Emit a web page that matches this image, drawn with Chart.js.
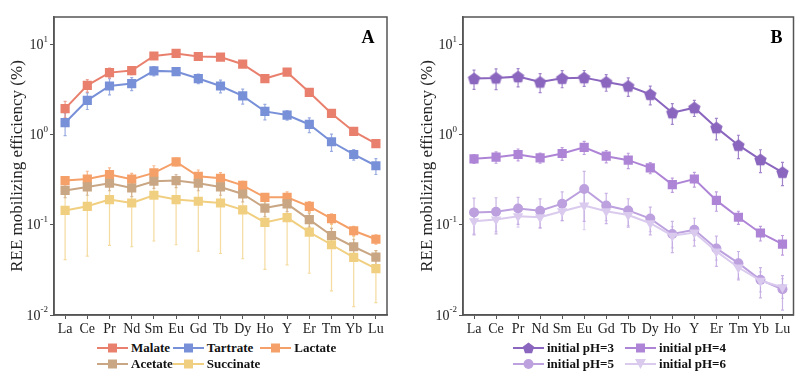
<!DOCTYPE html>
<html>
<head>
<meta charset="utf-8">
<script src="https://cdn.jsdelivr.net/npm/chart.js@4.4.0/dist/chart.umd.min.js"></script>
<style>
  body { margin: 0; background: #fff; }
  #wrap { position: relative; width: 800px; height: 384px; }
  .panel { position: absolute; top: 0; width: 400px; height: 384px; }
  .panel canvas.chart { position: absolute; left: 0; top: 0; }
  .legend { position: absolute; top: 340px; display: grid; grid-auto-rows: 16px;
            font: bold 13px "Liberation Serif", serif; color: #111; }
  .legend .item { display: flex; align-items: center; white-space: nowrap; }
  .legend .item canvas { margin-right: 3px; }
</style>
</head>
<body>
<div id="wrap">
  <div class="panel" style="left:0">
    <canvas class="chart" id="chartA" width="400" height="340"></canvas>
    <div class="legend" id="legA" style="left:97px;grid-template-columns:auto auto auto;column-gap:0px"></div>
  </div>
  <div class="panel" style="left:400px">
    <canvas class="chart" id="chartB" width="400" height="340"></canvas>
    <div class="legend" id="legB" style="left:113px;grid-template-columns:auto auto;column-gap:11px"></div>
  </div>
</div>
<script>
// ---- data ----
const elements = ['La', 'Ce', 'Pr', 'Nd', 'Sm', 'Eu', 'Gd', 'Tb', 'Dy', 'Ho', 'Y', 'Er', 'Tm', 'Yb', 'Lu'];
const yTicks = [0.01, 0.1, 1, 10];
const yTickExp = ['-2', '-1', '0', '1'];

// panel A: organic acids
const malate = [1.93, 3.5, 4.84, 5.1, 7.4, 7.9, 7.3, 7.2, 6.0, 4.16, 4.9, 2.93, 1.71, 1.08, 0.79];
const malateErr = [0.4, 0.55, 0.6, 0.5, 0.5, 0.5, 0.4, 0.4, 0.35, 0.25, 0.3, 0.2, 0.12, 0.08, 0.06];
const tartrate = [1.35, 2.39, 3.44, 3.66, 5.06, 4.97, 4.16, 3.44, 2.67, 1.80, 1.64, 1.29, 0.83, 0.60, 0.45];
const tartrateErr = [0.38, 0.5, 0.7, 0.6, 0.6, 0.4, 0.5, 0.55, 0.5, 0.35, 0.2, 0.24, 0.18, 0.08, 0.09];
const lactate = [0.308, 0.321, 0.36, 0.32, 0.375, 0.497, 0.344, 0.327, 0.273, 0.201, 0.201, 0.16, 0.117, 0.0858, 0.069];
const lactateErr = [0.03, 0.07, 0.067, 0.05, 0.075, 0.05, 0.06, 0.05, 0.03, 0.02, 0.03, 0.02, 0.015, 0.01, 0.008];
const acetate = [0.240, 0.262, 0.288, 0.255, 0.303, 0.308, 0.288, 0.262, 0.219, 0.153, 0.170, 0.114, 0.076, 0.057, 0.0438];
const acetateErr = [0.04, 0.05, 0.05, 0.05, 0.05, 0.05, 0.05, 0.05, 0.04, 0.03, 0.03, 0.02, 0.015, 0.012, 0.008];
const succinate = [0.144, 0.160, 0.19, 0.174, 0.212, 0.19, 0.182, 0.174, 0.146, 0.106, 0.12, 0.083, 0.06, 0.0434, 0.0327];
const succinateErr = [0.103, 0.115, 0.131, 0.117, 0.146, 0.13, 0.131, 0.126, 0.104, 0.074, 0.084, 0.054, 0.0415, 0.031, 0.019];

// panel B: initial pH
const ph3 = [4.16, 4.23, 4.37, 3.81, 4.19, 4.26, 3.81, 3.44, 2.78, 1.74, 1.98, 1.19, 0.76, 0.527, 0.381];
const ph3Err = [1.0, 1.1, 1.0, 0.9, 0.9, 0.85, 0.8, 0.8, 0.65, 0.45, 0.4, 0.32, 0.22, 0.15, 0.11];
const ph4 = [0.537, 0.56, 0.6, 0.55, 0.615, 0.72, 0.574, 0.519, 0.427, 0.278, 0.321, 0.186, 0.121, 0.081, 0.061];
const ph4Err = [0.06, 0.08, 0.09, 0.07, 0.1, 0.12, 0.09, 0.1, 0.06, 0.05, 0.06, 0.045, 0.02, 0.015, 0.015];
const ph5 = [0.137, 0.139, 0.151, 0.143, 0.171, 0.249, 0.163, 0.144, 0.117, 0.079, 0.088, 0.0546, 0.0375, 0.0245, 0.0193];
const ph5Err = [0.06, 0.06, 0.05, 0.05, 0.06, 0.14, 0.06, 0.05, 0.04, 0.03, 0.03, 0.02, 0.013, 0.009, 0.008];
const ph6 = [0.109, 0.114, 0.124, 0.121, 0.141, 0.163, 0.141, 0.128, 0.104, 0.0755, 0.082, 0.0506, 0.0336, 0.024, 0.0203];
const ph6Err = [0.03, 0.03, 0.03, 0.03, 0.03, 0.075, 0.03, 0.03, 0.02, 0.02, 0.015, 0.01, 0.008, 0.006, 0.005];

const FONT = '"Liberation Serif", "Times New Roman", serif';
const AXIS = '#555';

// regular pentagon marker (pointing up)
function pentagon(color, r) {
  const c = document.createElement('canvas');
  const s = Math.ceil(r * 2 + 2);
  c.width = s; c.height = s;
  const g = c.getContext('2d');
  g.fillStyle = color;
  g.beginPath();
  for (let k = 0; k < 5; k++) {
    const a = -Math.PI / 2 + k * 2 * Math.PI / 5;
    const px = s / 2 + r * Math.cos(a), py = s / 2 + 0.6 + r * Math.sin(a);
    k ? g.lineTo(px, py) : g.moveTo(px, py);
  }
  g.closePath();
  g.fill();
  return c;
}

// error bars, drawn through the y scale
const errorBars = {
  id: 'errorBars',
  beforeDatasetsDraw(chart) {
    const { ctx, chartArea, scales: { y } } = chart;
    chart.data.datasets.forEach((ds, di) => {
      const meta = chart.getDatasetMeta(di);
      ctx.save();
      ctx.strokeStyle = ds.errColor;
      ctx.lineWidth = 1.2;
      meta.data.forEach((pt, i) => {
        const v = ds.data[i], e = ds.errors[i];
        const top = y.getPixelForValue(v + e);
        const bot = Math.min(y.getPixelForValue(Math.max(v - e, 1e-4)), chartArea.bottom);
        ctx.beginPath();
        ctx.moveTo(pt.x, top); ctx.lineTo(pt.x, bot);
        ctx.moveTo(pt.x - 1.5, top); ctx.lineTo(pt.x + 1.5, top);
        ctx.moveTo(pt.x - 1.5, bot); ctx.lineTo(pt.x + 1.5, bot);
        ctx.stroke();
      });
      ctx.restore();
    });
  },
};

// frame, panel letter and 10^n tick labels
const frame = {
  id: 'frame',
  afterDraw(chart) {
    const { ctx, chartArea: a, scales: { y } } = chart;
    ctx.save();
    ctx.strokeStyle = AXIS;
    ctx.lineWidth = 1.5;
    ctx.strokeRect(a.left, a.top, a.right - a.left, a.bottom - a.top);

    ctx.fillStyle = '#000';
    ctx.font = 'bold 18px ' + FONT;
    ctx.textAlign = 'center';
    ctx.textBaseline = 'middle';
    ctx.fillText(chart.options.plugins.frame.letter, a.right - chart.options.plugins.frame.dx, a.top + 21);

    ctx.fillStyle = '#222';
    ctx.textAlign = 'right';
    yTicks.forEach((v, i) => {
      const py = y.getPixelForValue(v);
      const x0 = a.left - 6;
      ctx.font = '9px ' + FONT;
      const ew = ctx.measureText(yTickExp[i]).width;
      ctx.fillText(yTickExp[i], x0, py - 5);
      ctx.font = '14px ' + FONT;
      ctx.fillText('10', x0 - ew, py + 1);
    });
    ctx.restore();
  },
};

function makeChart(id, datasets, letter, dx, padLeft, padRight, yWidth) {
  return new Chart(document.getElementById(id), {
    type: 'line',
    data: { labels: elements, datasets },
    plugins: [errorBars, frame],
    options: {
      responsive: false,
      animation: false,
      devicePixelRatio: 1,
      layout: { padding: { left: padLeft, right: padRight, top: 17, bottom: 0 } },
      plugins: {
        legend: { display: false },
        tooltip: { enabled: false },
        frame: { letter, dx },
      },
      scales: {
        x: {
          type: 'category',
          offset: true,
          grid: { offset: false, drawOnChartArea: false, drawTicks: true, tickLength: 4, color: AXIS },
          border: { color: AXIS, width: 1.5 },
          ticks: { color: '#222', font: { family: FONT, size: 14 }, padding: 2, maxRotation: 0, autoSkip: false },
          afterFit: (s) => { s.height = 25; },
        },
        y: {
          type: 'logarithmic',
          min: 0.01,
          max: 20,
          afterBuildTicks: (s) => { s.ticks = yTicks.map((v) => ({ value: v })); },
          afterFit: (s) => { s.width = yWidth; },
          grid: { drawOnChartArea: false, drawTicks: true, tickLength: 4, color: AXIS },
          border: { color: AXIS, width: 1.5 },
          ticks: { display: false },
          title: {
            display: true,
            text: 'REE mobilizing efficiency (%)',
            color: '#222',
            font: { family: FONT, size: 17 },
            padding: { top: 7, bottom: 0 },
          },
        },
      },
    },
  });
}

function series(label, data, errors, color, errColor, pointStyle, extra) {
  return Object.assign({
    label, data, errors, errColor,
    borderColor: color,
    backgroundColor: color,
    borderWidth: 2,
    pointStyle,
    pointRadius: 6.5,
    pointBorderWidth: 0,
    tension: 0,
  }, extra || {});
}

const cA = {
  malate: '#E9806E', tartrate: '#7890D8', lactate: '#F5A068', acetate: '#C9A684', succinate: '#F1CF80',
};
const cB = { ph3: '#8B66BE', ph4: '#AE84D6', ph5: '#BDA1DF', ph6: '#D9CAEE' };
const pent = pentagon(cB.ph3, 6.5);

const dsA = [
  series('Succinate', succinate, succinateErr, cA.succinate, 'rgba(241,207,128,0.75)', 'rect'),
  series('Acetate', acetate, acetateErr, cA.acetate, 'rgba(201,166,132,0.75)', 'rect'),
  series('Lactate', lactate, lactateErr, cA.lactate, 'rgba(245,160,104,0.75)', 'rect'),
  series('Tartrate', tartrate, tartrateErr, cA.tartrate, 'rgba(120,144,216,0.75)', 'rect'),
  series('Malate', malate, malateErr, cA.malate, 'rgba(233,128,110,0.75)', 'rect'),
];
const dsB = [
  series('initial pH=6', ph6, ph6Err, cB.ph6, 'rgba(217,202,238,0.9)', 'triangle', { pointRotation: 180, pointRadius: 6 }),
  series('initial pH=5', ph5, ph5Err, cB.ph5, 'rgba(189,161,223,0.8)', 'circle', { pointRadius: 5 }),
  series('initial pH=4', ph4, ph4Err, cB.ph4, 'rgba(174,132,214,0.8)', 'rect'),
  series('initial pH=3', ph3, ph3Err, cB.ph3, 'rgba(139,102,190,0.8)', pent),
];

makeChart('chartA', dsA, 'A', 19, 0, 13, 54);
makeChart('chartB', dsB, 'B', 17, 10, 5, 53);

// HTML legends: line + marker icon, then label
function legendIcon(color, shape) {
  const c = document.createElement('canvas');
  c.width = 31; c.height = 12;
  const g = c.getContext('2d');
  g.strokeStyle = color; g.fillStyle = color; g.lineWidth = 2;
  g.beginPath(); g.moveTo(0, 6); g.lineTo(31, 6); g.stroke();
  g.beginPath();
  if (shape === 'rect') g.rect(11, 1.5, 9, 9);
  else if (shape === 'circle') g.arc(15.5, 6, 5, 0, Math.PI * 2);
  else if (shape === 'tri') { g.moveTo(10, 1); g.lineTo(21, 1); g.lineTo(15.5, 11); g.closePath(); }
  else if (shape === 'pent') {
    for (let k = 0; k < 5; k++) {
      const a = -Math.PI / 2 + k * 2 * Math.PI / 5;
      const px = 15.5 + 6 * Math.cos(a), py = 6.5 + 6 * Math.sin(a);
      k ? g.lineTo(px, py) : g.moveTo(px, py);
    }
    g.closePath();
  }
  g.fill();
  return c;
}
function fillLegend(id, items) {
  const box = document.getElementById(id);
  items.forEach(([text, color, shape]) => {
    const it = document.createElement('div');
    it.className = 'item';
    it.appendChild(legendIcon(color, shape));
    const sp = document.createElement('span');
    sp.textContent = text;
    it.appendChild(sp);
    box.appendChild(it);
  });
}
fillLegend('legA', [
  ['Malate', cA.malate, 'rect'], ['Tartrate', cA.tartrate, 'rect'], ['Lactate', cA.lactate, 'rect'],
  ['Acetate', cA.acetate, 'rect'], ['Succinate', cA.succinate, 'rect'],
]);
fillLegend('legB', [
  ['initial pH=3', cB.ph3, 'pent'], ['initial pH=4', cB.ph4, 'rect'],
  ['initial pH=5', cB.ph5, 'circle'], ['initial pH=6', cB.ph6, 'tri'],
]);
</script>
</body>
</html>
